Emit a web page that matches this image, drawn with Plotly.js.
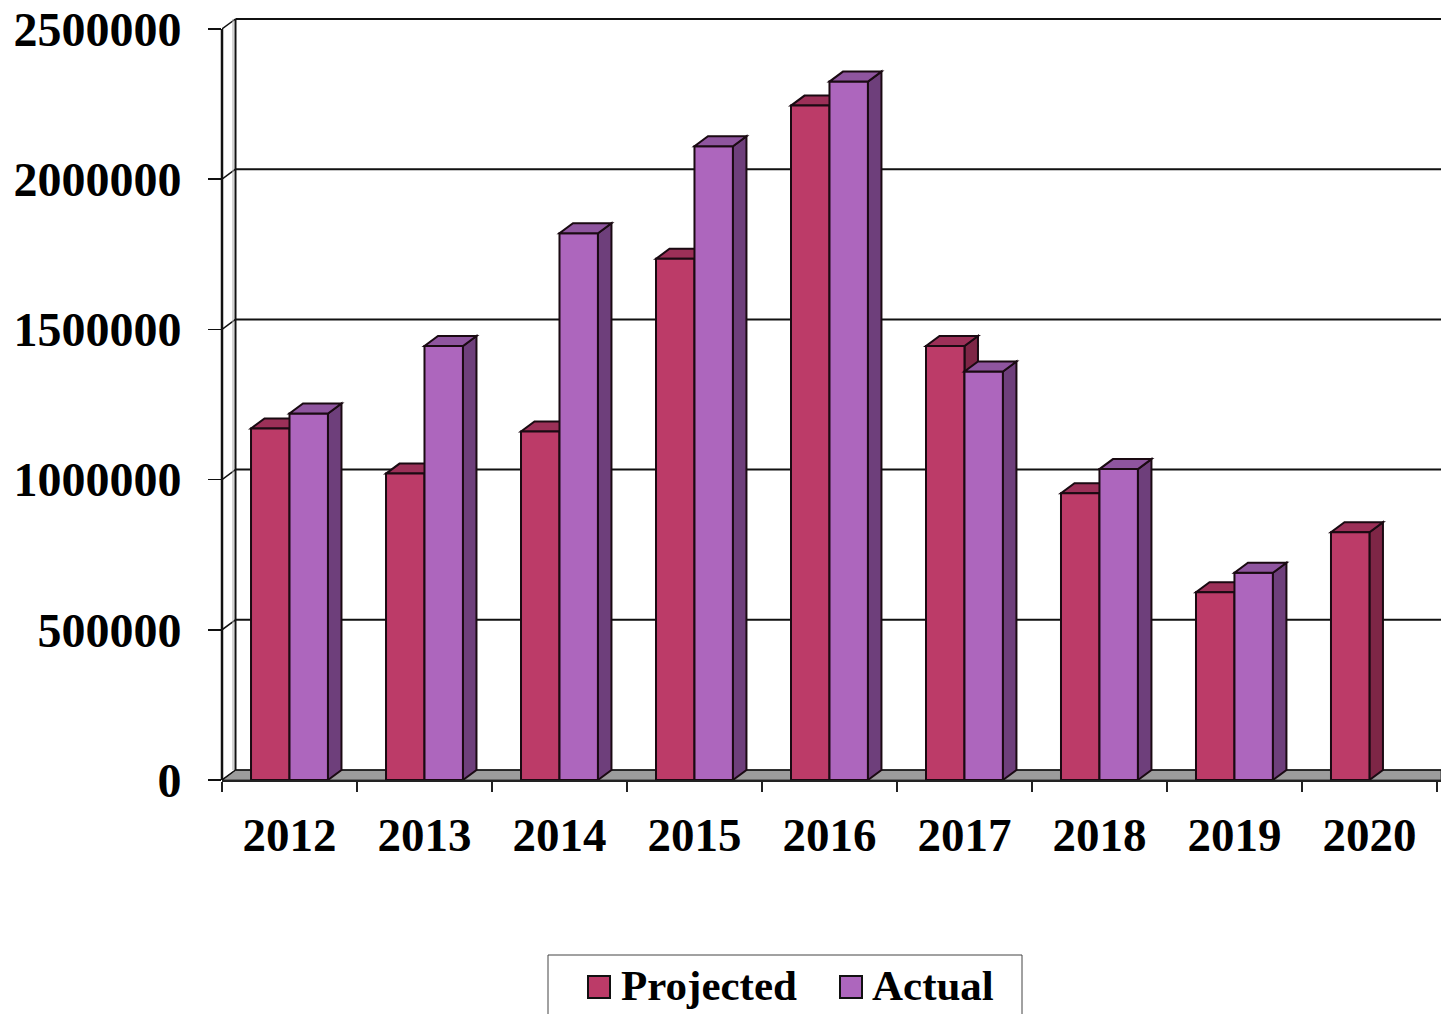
<!DOCTYPE html>
<html><head><meta charset="utf-8">
<script src="https://cdn.plot.ly/plotly-3.0.1.min.js"></script>
<style>html,body{margin:0;padding:0;background:#fff}#chart{width:1441px;height:1014px}</style>
</head><body><div id="chart"></div>
<script>
// ---- data ----
const categories = ['2012','2013','2014','2015','2016','2017','2018','2019','2020'];
const projected = [1170000, 1020000, 1160000, 1735000, 2245000, 1445000, 955000, 625000, 825000];
const actual    = [1220000, 1445000, 1820000, 2110000, 2325000, 1360000, 1035000, 690000, null];
const yTickValues = [0, 500000, 1000000, 1500000, 2000000, 2500000];
const seriesNames = ['Projected', 'Actual'];

// ---- layout constants ----
const W = 1441, H = 1014, ML = 222, MR = 0, MT = 11, MB = 234;
const X_RANGE = [-0.5, 8.53], Y_RANGE = [0, 2560000];
const plotW = W - ML - MR, plotH = H - MT - MB;
const pxX = plotW / (X_RANGE[1] - X_RANGE[0]);
const pxY = plotH / (Y_RANGE[1] - Y_RANGE[0]);
const DX = 13.5 / pxX, DY = 10 / pxY;        // 3-D depth offsets
const BARGAP = 0.43, BW = (1 - BARGAP) / 2;
const FONT = '"Liberation Serif", "Times New Roman", serif';
const colors = {
  pFront: '#BC3B68', pTop: '#9C3058', pSide: '#7E2646',
  aFront: '#AD66BD', aTop: '#8F559F', aSide: '#6E3F7B'
};
const idx = categories.map((c, i) => i);
const yTop = yTickValues[yTickValues.length - 1];
const px2paperX = px => (px - ML) / plotW;
const px2paperY = py => (H - MB - py) / plotH;

const shapes = [];
const X0 = X_RANGE[0], X1 = X_RANGE[1];
// floor
shapes.push({type:'path', xref:'x', yref:'y', layer:'below',
  path:`M ${X0},0 L ${X1},0 L ${X1},${DY} L ${X0+DX},${DY} Z`,
  fillcolor:'#9c9c9c', line:{color:'#333', width:1}});
// back wall gridlines + left wall connectors
yTickValues.forEach(v => {
  shapes.push({type:'line', xref:'x', yref:'y', layer:'below',
    x0:X0+DX, x1:X1, y0:v+DY, y1:v+DY, line:{color:'#111', width: v === 0 ? 1.5 : 2}});
  shapes.push({type:'line', xref:'x', yref:'y', layer:'below',
    x0:X0, x1:X0+DX, y0:v, y1:v+DY, line:{color:'#111', width:1.5}});
});
// back wall left edge
shapes.push({type:'line', xref:'x', yref:'y', layer:'below',
  x0:X0+DX-2.5/pxX, x1:X0+DX-2.5/pxX, y0:DY, y1:yTop+DY, line:{color:'#aaa', width:1}});
shapes.push({type:'line', xref:'x', yref:'y', layer:'below',
  x0:X0+DX, x1:X0+DX, y0:DY, y1:yTop+DY, line:{color:'#111', width:2}});
// front axis line
shapes.push({type:'line', xref:'paper', yref:'y', layer:'above',
  x0:0, x1:0, y0:0, y1:yTop, line:{color:'#111', width:2.5}});

// 3-D faces of bars
const outline = {color:'#1a0a12', width:2};
idx.forEach(i => {
  const p = projected[i];
  if (p != null) {
    shapes.push({type:'path', xref:'x', yref:'y', layer:'below',
      path:`M ${i},0 L ${i},${p} L ${i+DX},${p+DY} L ${i+DX},${DY} Z`,
      fillcolor:colors.pSide, line:outline});
    shapes.push({type:'path', xref:'x', yref:'y', layer:'below',
      path:`M ${i-BW},${p} L ${i},${p} L ${i+DX},${p+DY} L ${i-BW+DX},${p+DY} Z`,
      fillcolor:colors.pTop, line:outline});
  }
});
idx.forEach(i => {
  const a = actual[i];
  if (a != null) {
    shapes.push({type:'path', xref:'x', yref:'y', layer:'above',
      path:`M ${i+BW},0 L ${i+BW},${a} L ${i+BW+DX},${a+DY} L ${i+BW+DX},${DY} Z`,
      fillcolor:colors.aSide, line:outline});
    shapes.push({type:'path', xref:'x', yref:'y', layer:'above',
      path:`M ${i},${a} L ${i+BW},${a} L ${i+BW+DX},${a+DY} L ${i+DX},${a+DY} Z`,
      fillcolor:colors.aTop, line:outline});
  }
});

// manual legend
const annotations = [];
shapes.push({type:'rect', xref:'paper', yref:'paper', layer:'above',
  x0:px2paperX(548), x1:px2paperX(1022), y0:px2paperY(955), y1:px2paperY(1030),
  fillcolor:'rgba(0,0,0,0)', line:{color:'#444', width:1}});
const legendItems = [
  {name:seriesNames[0], color:colors.pFront, sq:588, tx:619},
  {name:seriesNames[1], color:colors.aFront, sq:840, tx:870}
];
legendItems.forEach(it => {
  shapes.push({type:'rect', xref:'paper', yref:'paper', layer:'above',
    x0:px2paperX(it.sq), x1:px2paperX(it.sq+22), y0:px2paperY(976), y1:px2paperY(998),
    fillcolor:it.color, line:{color:'#111', width:2}});
  annotations.push({xref:'paper', yref:'paper', x:px2paperX(it.tx), y:px2paperY(985),
    xanchor:'left', yanchor:'middle', showarrow:false, text:it.name,
    font:{family:FONT, size:43, color:'#000', weight:'bold'}});
});

const boundaries = idx.map(i => i - 0.5).concat([categories.length - 0.5]);

const traces = [
  {type:'bar', name:seriesNames[0], x:idx, y:projected, hoverinfo:'none',
   marker:{color:colors.pFront, line:outline}},
  {type:'bar', name:seriesNames[1], x:idx, y:actual, hoverinfo:'none',
   marker:{color:colors.aFront, line:outline}}
];

const layout = {
  width:W, height:H, margin:{l:ML, r:MR, t:MT, b:MB, pad:0},
  paper_bgcolor:'#fff', plot_bgcolor:'rgba(0,0,0,0)',
  showlegend:false, barmode:'group', bargap:BARGAP, bargroupgap:0,
  xaxis:{type:'linear', range:X_RANGE, tickmode:'array', tickvals:idx, ticktext:categories,
    ticks:'', showgrid:false, zeroline:false, showline:true, linecolor:'#222', linewidth:1.5,
    tickfont:{family:FONT, size:47, color:'#000', weight:'bold'}, ticklabelstandoff:13,
    minor:{tickmode:'array', tickvals:boundaries, ticks:'outside', ticklen:10, tickwidth:1.5,
      tickcolor:'#222', showgrid:false}},
  yaxis:{range:Y_RANGE, tickmode:'array', tickvals:yTickValues, tickformat:'d',
    ticks:'outside', ticklen:13, tickwidth:1.5, tickcolor:'#111',
    showgrid:false, zeroline:false, showline:false,
    tickfont:{family:FONT, size:48, color:'#000', weight:'bold'}, ticklabelstandoff:17},
  shapes:shapes, annotations:annotations
};
Plotly.newPlot('chart', traces, layout, {staticPlot:true, displayModeBar:false});
</script></body></html>
